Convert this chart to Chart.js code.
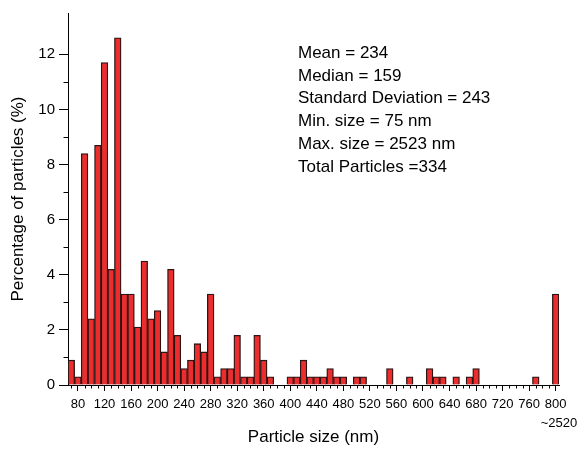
<!DOCTYPE html>
<html>
<head>
<meta charset="utf-8">
<script src="https://cdn.jsdelivr.net/npm/chart.js@4.4.0/dist/chart.umd.min.js"></script>
<style>
  html, body { margin: 0; padding: 0; background: #fff; }
  #wrap { width: 581px; height: 450px; }
</style>
</head>
<body>
<div id="wrap"><canvas id="sizeChart" width="581" height="450"></canvas></div>
<script>
// bin centres (nm), last bin holds everything up to ~2520
const sizes = [
  70, 80, 90, 100, 110, 120, 130, 140, 150, 160,
  170, 180, 190, 200, 210, 220, 230, 240, 250, 260,
  270, 280, 290, 300, 310, 320, 330, 340, 350, 360,
  370, 380, 390, 400, 410, 420, 430, 440, 450, 460,
  470, 480, 490, 500, 510, 520, 530, 540, 550, 560,
  570, 580, 590, 600, 610, 620, 630, 640, 650, 660,
  670, 680, 690, 700, 710, 720, 730, 740, 750, 760,
  770, 780, 790, 800
];
// percentage of particles per bin
const percent = [
  0.9, 0.3, 8.4, 2.4, 8.7, 11.7, 4.2, 12.6, 3.3, 3.3,
  2.1, 4.5, 2.4, 2.7, 1.2, 4.2, 1.8, 0.6, 0.9, 1.5,
  1.2, 3.3, 0.3, 0.6, 0.6, 1.8, 0.3, 0.3, 1.8, 0.9,
  0.3, 0, 0, 0.3, 0.3, 0.9, 0.3, 0.3, 0.3, 0.6,
  0.3, 0.3, 0, 0.3, 0.3, 0, 0, 0, 0.6, 0,
  0, 0.3, 0, 0, 0.6, 0.3, 0.3, 0, 0.3, 0,
  0.3, 0.6, 0, 0, 0, 0, 0, 0, 0, 0,
  0.3, 0, 0, 3.3
];
const xLabelStep = 40;
const yLabelStep = 2;
const yMax = 13.5;
const statsLines = [
  'Mean = 234',
  'Median = 159',
  'Standard Deviation = 243',
  'Min. size = 75 nm',
  'Max. size = 2523 nm',
  'Total Particles =334'
];
const lastBinNote = '~2520';

const FONT = '"Liberation Sans", Arial, Helvetica, sans-serif';
const clear = 'rgba(0,0,0,0)';

// short (unlabelled) tick marks + the stats block
const extras = {
  id: 'extras',
  afterDraw(chart) {
    const { ctx, scales: { x, y } } = chart;
    ctx.save();
    ctx.strokeStyle = '#000';
    ctx.lineWidth = 1;
    ctx.beginPath();
    sizes.forEach((s, i) => {
      if (s % xLabelStep !== 0) {
        const px = Math.round(x.getPixelForTick(i)) + 0.5;
        ctx.moveTo(px, x.top);
        ctx.lineTo(px, x.top + 3.5);
      }
    });
    y.ticks.forEach(t => {
      if (Number.isInteger(t.value) && t.value % yLabelStep !== 0) {
        const py = Math.round(y.getPixelForValue(t.value)) + 0.5;
        ctx.moveTo(y.right, py);
        ctx.lineTo(y.right - 4.5, py);
      }
    });
    ctx.stroke();

    ctx.fillStyle = '#000';
    ctx.textAlign = 'left';
    ctx.textBaseline = 'alphabetic';
    ctx.font = '17px ' + FONT;
    statsLines.forEach((line, i) => ctx.fillText(line, 298, 58 + i * 22.7));

    ctx.font = '13px ' + FONT;
    ctx.fillText(lastBinNote, x.getPixelForTick(sizes.length - 1) - 15, 427);
    ctx.restore();
  }
};

new Chart(document.getElementById('sizeChart'), {
  type: 'bar',
  data: {
    labels: sizes,
    datasets: [{
      data: percent,
      backgroundColor: '#ec2d2d',
      borderColor: '#2a1414',
      borderWidth: 1.3,
      barPercentage: 1,
      categoryPercentage: 1
    }]
  },
  options: {
    responsive: false,
    animation: false,
    devicePixelRatio: 1,
    layout: { padding: { top: 9, right: 22, left: 0, bottom: 0 } },
    plugins: { legend: { display: false }, tooltip: { enabled: false } },
    scales: {
      x: {
        type: 'category',
        offset: true,
        afterFit: s => { s.height = 65; },
        border: { display: true, color: '#000', width: 1 },
        grid: {
          offset: false,
          drawOnChartArea: false,
          tickLength: 6,
          tickColor: c => sizes[c.index] % xLabelStep === 0 ? '#000' : clear
        },
        ticks: {
          autoSkip: false,
          maxRotation: 0,
          padding: 6,
          color: '#000',
          font: { family: FONT, size: 13 },
          callback: (v, i) => sizes[i] % xLabelStep === 0 ? String(sizes[i]) : ''
        },
        title: {
          display: true,
          text: 'Particle size (nm)',
          color: '#000',
          font: { family: FONT, size: 17 },
          padding: { top: 0, bottom: 2 }
        }
      },
      y: {
        min: 0,
        max: yMax,
        afterFit: s => { s.width = 68; },
        border: { display: true, color: '#000', width: 1 },
        grid: {
          drawOnChartArea: false,
          tickLength: 9,
          tickColor: c => (c.tick && c.tick.value % yLabelStep === 0) ? '#000' : clear
        },
        ticks: {
          stepSize: 1,
          padding: 4,
          color: '#000',
          font: { family: FONT, size: 15 },
          callback: v => v % yLabelStep === 0 ? v : ''
        },
        title: {
          display: true,
          text: 'Percentage of particles (%)',
          color: '#000',
          font: { family: FONT, size: 17 },
          padding: { top: 8, bottom: 0 }
        }
      }
    }
  },
  plugins: [extras]
});
</script>
</body>
</html>
